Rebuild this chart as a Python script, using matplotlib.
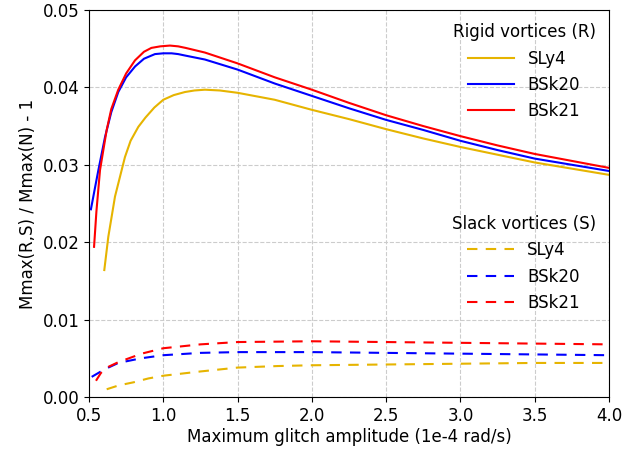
import matplotlib
matplotlib.use("Agg")
import matplotlib.pyplot as plt

# rigid vortices (R), solid lines
x_r_sly4 = [0.603, 0.63, 0.675, 0.742, 0.78, 0.832, 0.88, 0.94, 1.0, 1.07, 1.146, 1.21,
            1.28, 1.38, 1.5, 1.75, 2.0, 2.25, 2.5, 2.75, 3.0, 3.25, 3.5, 3.75, 4.0]
y_r_sly4 = [0.0164, 0.0207, 0.0259, 0.0310, 0.0331, 0.0349, 0.0361, 0.0374, 0.0384,
            0.0390, 0.0394, 0.0396, 0.0397, 0.0396, 0.0393, 0.0384, 0.0371, 0.0359,
            0.0346, 0.0334, 0.0323, 0.0313, 0.0303, 0.0295, 0.0287]
x_r_bsk20 = [0.513, 0.54, 0.563, 0.608, 0.65, 0.697, 0.75, 0.81, 0.87, 0.944, 1.0,
             1.056, 1.1, 1.15, 1.28, 1.5, 1.75, 2.0, 2.25, 2.5, 2.75, 3.0, 3.25, 3.5,
             3.75, 4.0]
y_r_bsk20 = [0.02425, 0.0270, 0.0293, 0.0336, 0.0368, 0.0394, 0.0413, 0.0427, 0.0437,
             0.0443, 0.0444, 0.0444, 0.0443, 0.0441, 0.0436, 0.0423, 0.0405, 0.0389,
             0.0373, 0.0358, 0.0345, 0.0331, 0.0319, 0.0308, 0.0300, 0.0292]
x_r_bsk21 = [0.534, 0.55, 0.574, 0.619, 0.65, 0.697, 0.75, 0.81, 0.87, 0.92, 0.98,
             1.045, 1.1, 1.15, 1.28, 1.5, 1.75, 2.0, 2.25, 2.5, 2.75, 3.0, 3.25, 3.5,
             3.75, 4.0]
y_r_bsk21 = [0.0194, 0.0240, 0.0293, 0.0345, 0.0372, 0.0397, 0.0418, 0.0435, 0.0446,
             0.0451, 0.0453, 0.0454, 0.0453, 0.0451, 0.0445, 0.0431, 0.0413, 0.0397,
             0.0380, 0.0364, 0.0350, 0.0337, 0.0325, 0.0314, 0.0305, 0.0296]

# slack vortices (S), dashed lines
x_s_sly4 = [0.619, 0.7, 0.8, 0.9, 1.0, 1.25, 1.5, 1.77, 2.0, 2.5, 3.0, 3.5, 4.0]
y_s_sly4 = [0.0010, 0.0015, 0.0019, 0.0024, 0.00275, 0.0033, 0.0038, 0.0040, 0.0041,
            0.0042, 0.0043, 0.0044, 0.0044]
x_s_bsk20 = [0.518, 0.58, 0.63, 0.697, 0.85, 1.0, 1.25, 1.5, 1.77, 2.0, 2.5, 3.0, 3.5, 4.0]
y_s_bsk20 = [0.0026, 0.0033, 0.0038, 0.0044, 0.0050, 0.0054, 0.0057, 0.0058, 0.0058,
             0.0058, 0.0057, 0.0056, 0.0055, 0.0054]
x_s_bsk21 = [0.547, 0.58, 0.62, 0.697, 0.854, 1.0, 1.25, 1.5, 2.0, 2.5, 3.0, 3.5, 4.0]
y_s_bsk21 = [0.0021, 0.0031, 0.0038, 0.0045, 0.0056, 0.0063, 0.0068, 0.0071, 0.0072,
             0.0071, 0.0070, 0.0069, 0.0068]

labels = ["SLy4", "BSk20", "BSk21"]
colors = ["#e6b400", "#0000ff", "#ff0000"]

fig = plt.figure(figsize=(6.38, 4.49), dpi=100)
ax = fig.add_axes([0.1395, 0.1158, 0.815, 0.862])

rigid = [(x_r_sly4, y_r_sly4), (x_r_bsk20, y_r_bsk20), (x_r_bsk21, y_r_bsk21)]
slack = [(x_s_sly4, y_s_sly4), (x_s_bsk20, y_s_bsk20), (x_s_bsk21, y_s_bsk21)]

h_r = []
for (xs, ys), lab, c in zip(rigid, labels, colors):
    l, = ax.plot(xs, ys, color=c, lw=1.5, label=lab)
    h_r.append(l)
h_s = []
for (xs, ys), lab, c in zip(slack, labels, colors):
    l, = ax.plot(xs, ys, color=c, lw=1.5, ls=(0, (5, 4)), label=lab)
    h_s.append(l)

ax.set_xlim(0.5, 4.0)
ax.set_ylim(0.0, 0.05)
ax.set_xticks([0.5, 1.0, 1.5, 2.0, 2.5, 3.0, 3.5, 4.0])
ax.set_yticks([0.0, 0.01, 0.02, 0.03, 0.04, 0.05])
ax.set_yticklabels(["0.00", "0.01", "0.02", "0.03", "0.04", "0.05"])
ax.tick_params(labelsize=12)
ax.grid(True, color="#cccccc", ls="--", lw=0.8)
ax.set_xlabel("Maximum glitch amplitude (1e-4 rad/s)", fontsize=12, labelpad=2)
ax.set_ylabel("Mmax(R,S) / Mmax(N) - 1", fontsize=12)

leg1 = ax.legend(handles=h_r, title="Rigid vortices (R)", loc="upper right",
                 frameon=False, fontsize=12, title_fontsize=12, handlelength=2.8,
                 borderaxespad=0.4)
ax.add_artist(leg1)
ax.legend(handles=h_s, title="Slack vortices (S)", loc="center right",
          bbox_to_anchor=(1.0, 0.345), frameon=False, fontsize=12,
          title_fontsize=12, handlelength=2.8, borderaxespad=0.4)

fig.savefig("out.png", dpi=100)
